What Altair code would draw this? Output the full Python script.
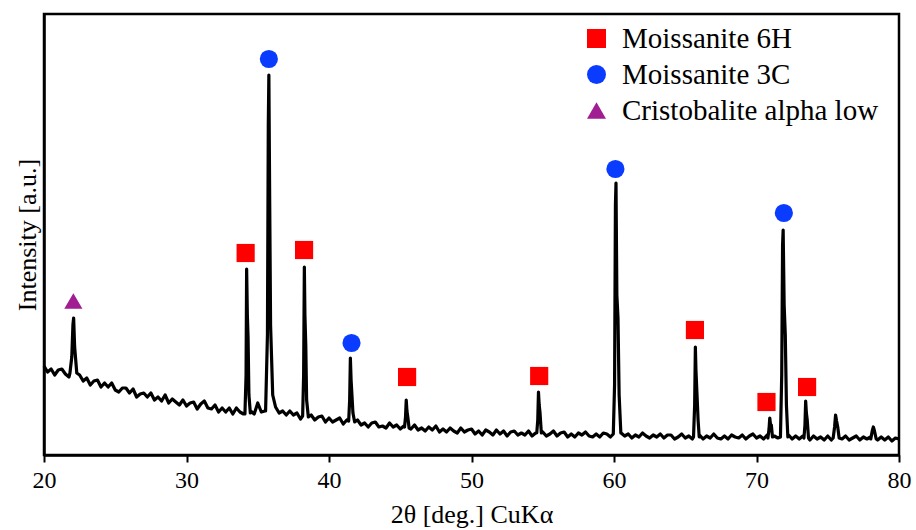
import altair as alt
import pandas as pd

# Background of the XRD scan, sampled every 0.25 deg from 20 to 80 (intensity in a.u.)
bg_u = [
    89, 83, 86, 80,  85, 86, 81, 78,  90, 79, 80, 74,  77, 70, 74, 75,
    68, 72, 68, 72,  65, 63, 67, 67,  62, 66, 58, 61,  62, 58, 62, 55,
    58, 54, 60, 52,  56, 53, 50, 55,  49, 52, 53, 46,  51, 54, 47, 46,
    50, 43, 47, 43,  47, 41, 47, 43,  41, 40, 44, 41,  52, 43, 44, 45,
    50, 48, 42, 44,  40, 44, 40, 42,  36, 39, 38, 40,  35, 38, 39, 33,
    37, 33, 35, 37,  31, 35, 33, 33,  35, 30, 32, 28,  32, 33, 28, 29,
    27, 32, 28, 30,  26, 29, 27, 26,  30, 25, 27, 24,  28, 25, 29, 23,
    26, 23, 27, 24,  22, 27, 23, 25,  26, 21, 24, 20,  25, 23, 20, 25,
    21, 24, 19, 23,  24, 20, 22, 20,  24, 19, 22, 21,  23, 19, 21, 24,
    19, 22, 23, 18,  21, 18, 22, 20,  23, 19, 18, 21,  18, 22, 21, 18,
    20, 20, 22, 19,  21, 17, 20, 18,  22, 19, 17, 20,  18, 21, 17, 20,
    20, 16, 18, 21,  17, 19, 16, 18,  20, 16, 19, 17,  21, 17, 16, 19,
    16, 20, 18, 17,  20, 16, 19, 21,  17, 19, 16, 20,  18, 19, 17, 18,
    18, 20, 16, 19,  16, 19, 17, 15,  19, 16, 18, 15,  19, 15, 17, 18,
    16, 19, 15, 17,  19, 15, 18, 16,  18, 17, 15, 18,  15, 18, 14, 17,
    16,
]
bg_x = [round(20 + 0.25 * i, 2) for i in range(len(bg_u))]

# Diffraction peaks (2theta positions, intensities)
peaks = [
    ([21.82, 21.95, 22.03, 22.08, 22.15, 22.3], [82, 98, 130, 137, 108, 82]),
    ([34.1, 34.18, 34.22, 34.27, 34.32, 34.38, 34.48], [41, 80, 186, 140, 118, 60, 42]),
    ([35.55, 35.68, 35.74, 35.78, 35.84, 35.9, 36.05], [44, 120, 330, 380, 250, 130, 60]),
    ([38.15, 38.22, 38.27, 38.31, 38.37, 38.43, 38.55], [39, 80, 188, 140, 110, 55, 38]),
    ([41.38, 41.45, 41.5, 41.55, 41.61, 41.68, 41.8], [34, 55, 97, 75, 60, 42, 33]),
    ([45.3, 45.37, 45.42, 45.47, 45.53, 45.62], [28, 38, 55, 44, 38, 27]),
    ([54.58, 54.65, 54.7, 54.75, 54.81, 54.9], [22, 35, 63, 50, 42, 22]),
    ([59.95, 60.04, 60.1, 60.14, 60.2, 60.28, 60.36, 60.48], [21, 70, 250, 272, 160, 137, 60, 22]),
    ([65.58, 65.66, 65.71, 65.75, 65.82, 65.9, 65.98], [18, 50, 108, 85, 62, 35, 18]),
    ([70.8, 70.88, 70.93, 70.98, 71.04, 71.12], [17, 26, 37, 31, 30, 18]),
    ([71.68, 71.77, 71.83, 71.87, 71.94, 72.02, 72.1, 72.2], [18, 80, 210, 225, 150, 120, 50, 18]),
    ([73.33, 73.4, 73.45, 73.5, 73.56, 73.65], [17, 30, 54, 42, 35, 17]),
    ([75.38, 75.48, 75.55, 75.62, 75.7, 75.8], [17, 28, 40, 34, 28, 17]),
    ([78.02, 78.12, 78.2, 78.28, 78.4], [16, 24, 28, 24, 16]),
]

# Phase markers
phases = ["Moissanite 6H", "Moissanite 3C", "Cristobalite alpha low"]
marker_phase = (["Cristobalite alpha low"]
                + ["Moissanite 6H"] * 7
                + ["Moissanite 3C"] * 4)
marker_x = [22.06, 34.15, 38.25, 45.48, 54.75, 65.68, 70.7, 73.55, 35.78, 41.58, 60.1, 71.92]
marker_u = [154, 202, 205, 78, 79, 125, 53, 68, 396, 112, 286, 242]
colors = ["#ff0000", "#0a3cff", "#a01e92"]
shapes = ["square", "circle", "triangle-up"]

xs, us = [], []
for x, u in zip(bg_x, bg_u):
    if any(px[0] < x < px[-1] for px, _ in peaks):
        continue
    xs.append(x)
    us.append(u)
for px, pu in peaks:
    xs += px
    us += pu
spec = pd.DataFrame({"x": xs, "u": us}).sort_values("x").reset_index(drop=True)
mk = pd.DataFrame({"x": marker_x, "u": marker_u, "phase": marker_phase})

FONT = "Liberation Serif"

xenc = alt.X("x:Q", scale=alt.Scale(domain=[20, 80], nice=False),
             axis=alt.Axis(values=[20, 30, 40, 50, 60, 70, 80], title="2θ [deg.] CuKα",
                           tickSize=7, tickWidth=2, tickColor="black",
                           labelFontSize=24, labelPadding=6, titleFontSize=26,
                           titlePadding=9, labelFlush=False))
yenc = alt.Y("u:Q", scale=alt.Scale(domain=[0, 441], nice=False, zero=False),
             axis=alt.Axis(labels=False, ticks=False, title="Intensity [a.u.]",
                           titleFontSize=26, titlePadding=4))

line = alt.Chart(spec).mark_line(color="black", strokeWidth=3.2, strokeJoin="round").encode(
    x=xenc, y=yenc)

leg = alt.Legend(orient="none", legendX=538, legendY=10, title=None)
pts = alt.Chart(mk).mark_point(filled=True, opacity=1, size=330, strokeWidth=0).encode(
    x="x:Q", y="u:Q",
    color=alt.Color("phase:N", scale=alt.Scale(domain=phases, range=colors), legend=leg, title=None),
    shape=alt.Shape("phase:N", scale=alt.Scale(domain=phases, range=shapes), legend=leg, title=None),
)

chart = alt.layer(line, pts).properties(
    width=855, height=441,
    autosize=alt.AutoSizeParams(type="none"),
    padding={"left": 44, "top": 14, "right": 17, "bottom": 75},
).configure(font=FONT).configure_view(
    stroke="black", strokeWidth=2.5
).configure_axis(
    domainColor="black", domainWidth=2.5, grid=False,
    labelFont=FONT, titleFont=FONT, labelColor="black", titleColor="black",
    titleFontWeight="normal",
).configure_legend(
    labelFont=FONT, labelFontSize=29, labelColor="black", symbolSize=360,
    labelOffset=11, rowPadding=6, padding=0, symbolStrokeWidth=0,
    symbolOpacity=1, labelLimit=0,
)

chart.save("out.html", embed_options={"renderer": "svg", "actions": False})
